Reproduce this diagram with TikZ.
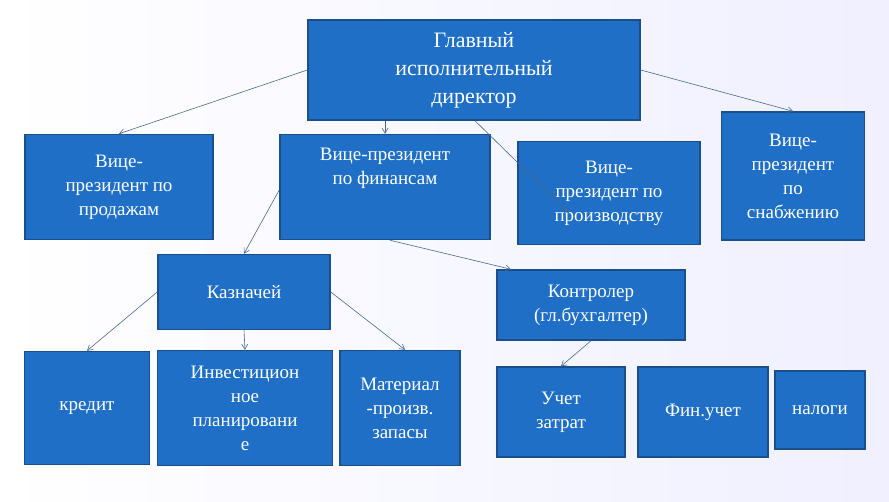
\documentclass[tikz,border=0pt]{standalone}
\usepackage{fontspec}
\setmainfont{Liberation Serif}
\usetikzlibrary{arrows.meta}
\definecolor{boxblue}{HTML}{1F6FC6}
\definecolor{boxedge}{HTML}{1B4F8C}
\definecolor{linegray}{HTML}{4A6A8A}
\begin{document}
\begin{tikzpicture}[x=1pt,y=-1pt,
                    unit/.style={draw=boxedge, line width=1.5pt, fill=boxblue, text=white, align=center, font=\fontsize{19}{24}\selectfont, inner sep=2pt},
                    link/.style={draw=linegray, line width=0.6pt, -{Straight Barb[length=5pt,width=6pt]}}
                ]
    \fill[left color=white, right color=blue!6] (0,0) rectangle (889,501);
    \useasboundingbox (0,0) rectangle (889,501);
    % boxes
    \node[unit, minimum width=332pt, minimum height=100pt, font=\fontsize{22}{28}\selectfont] (ceo) at (474,70) {Главный\\исполнительный\\директор};
    \node[unit, minimum width=188pt, minimum height=105pt] (sales) at (119,187) {Вице-\\президент по\\продажам};
    \node[unit, minimum width=210pt, minimum height=105pt] (fin) at (385,187) {Вице-президент\\по финансам\\[18pt]};
    \node[unit, minimum width=182pt, minimum height=103pt] (prod) at (609,193) {Вице-\\президент по\\производству};
    \node[unit, minimum width=143pt, minimum height=128pt] (supply) at (793,176) {Вице-\\президент\\по\\снабжению};
    \node[unit, minimum width=172pt, minimum height=75pt] (treas) at (244,292) {Казначей};
    \node[unit, minimum width=188pt, minimum height=70pt] (ctrl) at (591,305) {Контролер\\(гл.бухгалтер)};
    \node[unit, minimum width=125pt, minimum height=113pt] (credit) at (87,408) {кредит};
    \node[unit, minimum width=175pt, minimum height=115pt] (invest) at (245,408) {Инвестицион\\ное\\планировани\\е};
    \node[unit, minimum width=120pt, minimum height=115pt] (stock) at (400,408) {Материал\\-произв.\\запасы};
    \node[unit, minimum width=128pt, minimum height=90pt] (cost) at (561,412) {Учет\\затрат};
    \node[unit, minimum width=130pt, minimum height=90pt] (acct) at (703,412) {Фин.учет};
    \node[unit, minimum width=90pt, minimum height=78pt] (tax) at (820,410) {налоги};
    % links
    \draw[link] (ceo.west) -- (sales.north);
    \draw[link] (ceo.east) -- (supply.north);
    \draw[link] (ceo.south -| fin.north) -- (fin.north);
    \draw[link] ([xshift=1pt]ceo.south) -- ([xshift=-40pt,yshift=-20pt]prod.center);
    \draw[link] ([yshift=-3pt]fin.west) -- (treas.north);
    \draw[link] ([xshift=5pt]fin.south) -- ([xshift=-80pt]ctrl.north);
    \draw[link] (treas.west) -- (credit.north);
    \draw[link] (treas.south) -- (invest.north);
    \draw[link] (treas.east) -- ([xshift=5pt]stock.north);
    \draw[link] (ctrl.south) -- (cost.north);
\end{tikzpicture}
\end{document}
